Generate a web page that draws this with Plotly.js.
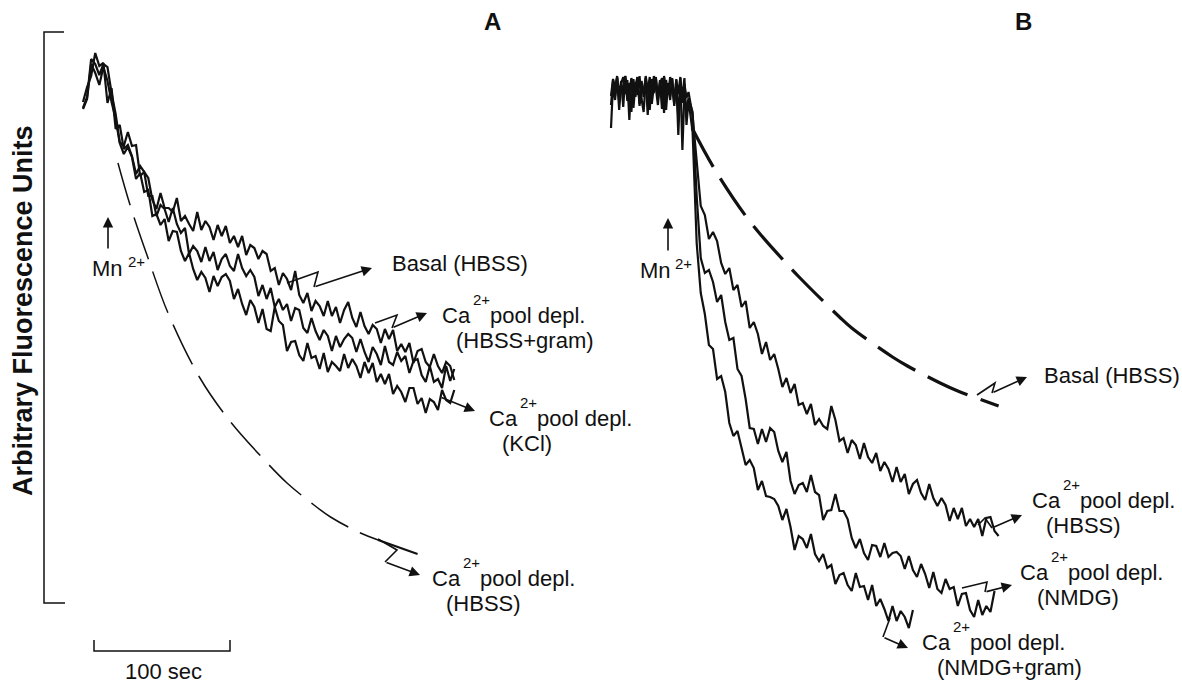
<!DOCTYPE html>
<html>
<head>
<meta charset="utf-8">
<script src="https://cdn.plot.ly/plotly-3.0.1.min.js"></script>
<style>
  html, body { margin: 0; padding: 0; background: #ffffff; }
  #chart { width: 1182px; height: 685px; }
</style>
</head>
<body>
<div id="chart"></div>
<script>
// ---------- DATA (time in s, fluorescence in arbitrary units) ----------
// Panel A: sampled every 3 s
const timeA = [0,3,6,9,12,15,18,21,24,27,30,33,36,39,42,45,48,51,54,57,60,63,66,69,72,75,78,81,84,87,90,93,96,99,102,105,108,111,114,117,120,123,126,129,132,135,138,141,144,147,150,153,156,159,162,165,168,171,174,177,180,183,186,189,192,195,198,201,204,207,210,213,216,219,222,225,228,231,234,237,240,243,246,249,252,255,258,261,264,267,270,273];
const aBasalHBSS = [495,506,544,539,528,539,536,510,489,461,457,471,457,458,427,431,425,403,394,410,395,395,391,405,382,387,379,372,391,373,382,376,363,378,367,377,360,367,356,367,348,358,355,344,352,349,332,335,318,330,324,313,332,308,300,310,292,302,297,287,302,287,296,280,293,301,285,276,291,277,269,278,274,260,274,264,273,252,259,251,260,240,252,254,241,236,249,237,230,241,237,223];
const aDeplGram = [501,516,527,550,537,540,500,515,474,478,454,458,447,429,437,431,407,407,387,398,394,381,395,379,370,375,349,357,352,341,356,342,351,333,344,349,337,332,349,335,327,333,326,307,318,304,315,296,304,293,299,282,295,293,275,270,285,272,263,273,267,252,267,256,264,269,265,251,264,251,241,256,249,238,257,241,238,251,242,247,230,242,244,228,221,237,221,224,215,237,222,234];
const aDeplKCl = [494,504,539,530,518,536,522,501,484,460,449,456,446,424,430,411,413,387,389,378,384,362,372,371,352,342,350,334,323,331,325,311,327,317,326,329,322,304,314,299,288,303,296,280,294,274,272,296,282,278,252,261,262,248,242,260,245,247,234,250,231,241,237,232,249,235,244,237,225,241,230,240,221,229,219,229,209,217,211,201,215,215,199,205,190,204,201,193,213,203,200,213];
const aDeplHBSSTime = [25.7,34.6,47.8,62.5,86,108,132,150,167,182,204,217,246];
const aDeplHBSS = [440,398,345,290,225,182,145,120,101,86,70,63,49];

// Panel B: baseline sampled every 1.5 s, then every 3 s
const timeB = [0,1.5,3,4.5,6,7.5,9,10.5,12,13.5,15,16.5,18,19.5,21,22.5,24,25.5,27,28.5,30,31.5,33,34.5,36,37.5,39,40.5,42,43.5,45,46.5,48,49.5,51,52.5,54,55.5,57,
  60,63,66,69,72,75,78,81,84,87,90,93,96,99,102,105,108,111,114,117,120,123,126,129,132,135,138,141,144,147,150,153,156,159,162,165,168,171,174,177,180,183,186,189,192,195,198,201,204,207,210,213,216,219,222,225,228,231,234,237,240,243,246,249,252,255,258,261,264,267,270,273,276,279,282,285];
const bDeplHBSS = [498,523,507,526,493,519,511,527,502,515,524,495,520,508,527,504,491,522,513,526,499,517,525,506,521,494,527,510,518,503,525,497,523,509,526,500,519,505,511,
  487,440,397,388,364,371,362,340,329,335,313,318,296,302,275,281,269,249,261,243,249,234,216,225,210,219,198,200,189,199,178,184,177,174,197,183,162,165,150,163,158,144,160,146,140,150,132,141,134,121,136,121,129,109,119,123,110,103,119,105,97,105,98,82,95,84,95,77,84,76,84,67,85,86,72,67];
const bDeplNMDG = [475,519,503,525,508,522,496,527,513,520,491,524,506,526,499,517,510,525,488,521,504,527,515,498,523,509,526,493,520,507,524,502,518,485,525,453,511,491,505,
  491,407,345,330,333,321,301,308,281,263,265,234,227,204,175,174,159,174,161,175,171,152,141,151,122,109,118,120,111,128,111,108,83,92,93,109,92,92,84,65,55,64,50,43,58,57,46,60,46,50,51,47,34,47,33,26,39,29,15,31,14,10,24,14,16,-3,9,10,-7,-14,3,-12,-3,-9,12];
const bDeplNMDGGram = [507,524,515,527,501,520,526,509,523,483,525,512,518,526,497,522,506,527,514,493,524,510,526,503,519,525,490,523,508,526,516,499,524,468,521,507,525,478,503,
  471,360,310,289,258,254,224,227,211,180,167,172,154,138,143,135,113,122,107,106,104,97,83,94,76,53,67,64,55,69,49,42,49,35,38,19,28,30,18,12,30,16,17,3,18,-3,4,-6,-18,-3,-18,-8,-14,-25,-7];
const bBasalTime = [59.6,77,103,130,139,168,177,207,218,242,255,285];
const bBasalHBSS = [475,432,380,338,325,286,275,246,237,220,212,197];

// ---------- FIGURE ----------
const W = 1182, H = 685;
const X = px => px / W;
const Y = py => 1 - py / H;
const FONT = 'Liberation Sans, Arial, Helvetica, sans-serif';
const INK = '#111111';

function solid(x, y, xa, w) {
  return {x: x, y: y, xaxis: xa, yaxis: 'y', type: 'scatter', mode: 'lines',
          line: {color: INK, width: w || 2.2}, hoverinfo: 'skip'};
}
function dashed(x, y, xa, w, dash) {
  return {x: x, y: y, xaxis: xa, yaxis: 'y', type: 'scatter', mode: 'lines',
          line: {color: INK, width: w, dash: dash, shape: 'spline', smoothing: 1}, hoverinfo: 'skip'};
}

const nA = aDeplHBSS.length;
const traces = [
  solid(timeA.slice(0, aBasalHBSS.length), aBasalHBSS, 'x'),
  solid(timeA.slice(0, aDeplGram.length), aDeplGram, 'x'),
  solid(timeA.slice(0, aDeplKCl.length), aDeplKCl, 'x'),
  dashed(aDeplHBSSTime.slice(0, nA - 1), aDeplHBSS.slice(0, nA - 1), 'x', 1.5, '44px,13px'),
  dashed(aDeplHBSSTime.slice(nA - 2), aDeplHBSS.slice(nA - 2), 'x', 2, 'solid'),
  solid(timeB.slice(0, bDeplHBSS.length), bDeplHBSS, 'x2'),
  solid(timeB.slice(0, bDeplNMDG.length), bDeplNMDG, 'x2'),
  solid(timeB.slice(0, bDeplNMDGGram.length), bDeplNMDGGram, 'x2'),
  dashed(bBasalTime, bBasalHBSS, 'x2', 3.2, '44px,14px')
];

const annotations = [];
const shapes = [];

function txt(s, x, y, size, opts) {
  annotations.push(Object.assign({text: s, x: X(x), y: Y(y), xref: 'paper', yref: 'paper',
    xanchor: 'left', yanchor: 'middle', showarrow: false,
    font: {family: FONT, size: size, color: INK}}, opts || {}));
}
function arrow(tail, tip) {
  annotations.push({text: '', x: X(tip[0]), y: Y(tip[1]), xref: 'paper', yref: 'paper',
    ax: tail[0] - tip[0], ay: tail[1] - tip[1], showarrow: true, arrowhead: 2,
    arrowsize: 1.3, arrowwidth: 1.6, arrowcolor: INK, standoff: 0, startstandoff: 0});
}
function poly(pts, w) {
  let d = pts.map((p, i) => (i ? 'L' : 'M') + X(p[0]) + ',' + Y(p[1])).join(' ');
  shapes.push({type: 'path', xref: 'paper', yref: 'paper', path: d,
    line: {color: INK, width: w || 1.6}});
}
function zigArrow(pts) {
  poly(pts.slice(0, pts.length - 1));
  arrow(pts[pts.length - 2], pts[pts.length - 1]);
}
function caLabel(x0, cy, line2, dx2) {
  txt('Ca', x0, cy, 22);
  txt('2+', x0 + 31, cy - 16, 15);
  txt('pool depl.', x0 + 48, cy, 22);
  txt(line2, x0 + (dx2 || 14), cy + 25, 22);
}

// axis bracket and time scale bar
poly([[64, 32], [44, 32], [44, 603], [65, 603]], 1.5);
poly([[94, 640], [94, 651], [230, 651], [230, 640]], 1.5);
txt('100 sec', 163, 671, 22, {xanchor: 'center'});

// y title
annotations.push({text: '<b>Arbitrary Fluorescence Units</b>', x: X(23), y: Y(311), xref: 'paper', yref: 'paper',
  textangle: -90, showarrow: false, xanchor: 'center', yanchor: 'middle',
  font: {family: FONT, size: 27, color: INK}});

// panel letters
txt('<b>A</b>', 492, 21, 24, {xanchor: 'center'});
txt('<b>B</b>', 1023, 21, 24, {xanchor: 'center'});

// Mn2+ markers
arrow([108, 250], [108, 217]);
txt('Mn', 90, 268, 22);
txt('2+', 126, 261, 15);
arrow([668, 252], [668, 218]);
txt('Mn', 638, 270, 22);
txt('2+', 673, 263, 15);

// Panel A labels
zigArrow([[287, 283], [318, 272], [314, 287], [372, 268]]);
txt('Basal (HBSS)', 390, 263, 22);
zigArrow([[375, 323], [397, 315], [392, 328], [427, 313]]);
caLabel(440, 315, '(HBSS+gram)');
arrow([440, 397], [475, 411]);
caLabel(487, 418, '(KCl)', 13);
zigArrow([[378, 539], [397, 550], [385, 562], [420, 575]]);
caLabel(430, 578, '(HBSS)');

// Panel B labels
zigArrow([[977, 395], [995, 383], [992, 393], [1027, 377]]);
txt('Basal (HBSS)', 1042, 375, 22);
zigArrow([[978, 525], [985, 518], [992, 528], [1022, 515]]);
caLabel(1030, 500, '(HBSS)');
zigArrow([[962, 588], [987, 582], [985, 592], [1012, 585]]);
caLabel(1018, 572, '(NMDG)', 17);
zigArrow([[890, 618], [883, 637], [908, 648]]);
caLabel(920, 642, '(NMDG+gram)', 15);

const layout = {
  width: W, height: H,
  margin: {l: 0, r: 0, t: 0, b: 0},
  paper_bgcolor: '#ffffff', plot_bgcolor: '#ffffff',
  showlegend: false,
  xaxis: {range: [-61.03, 808.09], visible: false, fixedrange: true},
  xaxis2: {range: [-449.26, 419.85], visible: false, overlaying: 'x', anchor: 'y', fixedrange: true},
  yaxis: {range: [-82, 603], visible: false, fixedrange: true},
  annotations: annotations,
  shapes: shapes
};

Plotly.newPlot('chart', traces, layout, {staticPlot: true, displayModeBar: false});
</script>
</body>
</html>
